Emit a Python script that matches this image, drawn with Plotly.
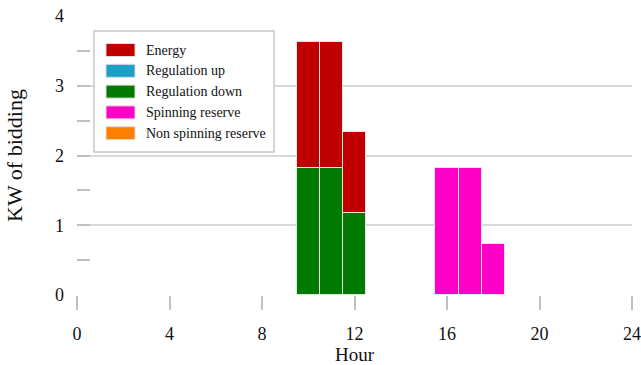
import plotly.graph_objects as go

hours = [10, 11, 12, 16, 17, 18]
energy = [1.81, 1.81, 1.17, 0, 0, 0]
reg_up = [0, 0, 0, 0, 0, 0]
reg_down = [1.82, 1.82, 1.17, 0, 0, 0]
spinning = [0, 0, 0, 1.82, 1.82, 0.73]
non_spinning = [0, 0, 0, 0, 0, 0]

series_names = ["Energy", "Regulation up", "Regulation down", "Spinning reserve", "Non spinning reserve"]
series_colors = ["#c00000", "#1ba1c8", "#007a00", "#ff00c8", "#ff8000"]
x_ticks = [0, 4, 8, 12, 16, 20, 24]
y_ticks = [0, 1, 2, 3, 4]

FONT = "Liberation Serif"
W, H = 641, 365
ML, MR, MT, MB = 77, 9, 16, 70

fig = go.Figure()

# stacking order: bottom first
stack = [("Regulation down", reg_down), ("Regulation up", reg_up), ("Energy", energy),
         ("Spinning reserve", spinning), ("Non spinning reserve", non_spinning)]
cmap = dict(zip(series_names, series_colors))
for name, vals in stack:
    xs = [h for h, v in zip(hours, vals) if v > 0]
    ys = [v for v in vals if v > 0]
    fig.add_trace(go.Bar(x=xs, y=ys, width=1, name=name, showlegend=False,
                         marker=dict(color=cmap[name], line=dict(color="#e6e6e6", width=1.5))))

# custom legend (paper coordinates from pixel layout)
pw, ph = W - ML - MR, H - MT - MB
def px(X):
    return (X - ML) / pw
def py(Y):
    return (H - MB - Y) / ph

shapes = [dict(type="rect", xref="paper", yref="paper",
               x0=px(94), x1=px(274), y0=py(152), y1=py(31),
               line=dict(color="#c8c8c8", width=1.5), fillcolor="white", layer="above")]
annotations = []
row_y = 50
for name, col in zip(series_names, series_colors):
    shapes.append(dict(type="rect", xref="paper", yref="paper",
                       x0=px(106), x1=px(135), y0=py(row_y + 6.5), y1=py(row_y - 6.5),
                       line=dict(color="#dddddd", width=1), fillcolor=col, layer="above"))
    annotations.append(dict(xref="paper", yref="paper", x=px(144), y=py(row_y),
                            xanchor="left", yanchor="middle", showarrow=False, text=name,
                            font=dict(family=FONT, size=14, color="#111")))
    row_y += 20.8

# x-axis title
annotations.append(dict(xref="paper", yref="paper", x=0.5, y=py(354),
                        xanchor="center", yanchor="middle", showarrow=False, text="Hour",
                        font=dict(family=FONT, size=19, color="#111")))

fig.update_layout(
    barmode="stack", bargap=0,
    width=W, height=H,
    margin=dict(l=ML, r=MR, t=MT, b=MB),
    plot_bgcolor="white", paper_bgcolor="white",
    font=dict(family=FONT, size=18, color="#111"),
    showlegend=False,
    shapes=shapes, annotations=annotations,
    xaxis=dict(range=[0, 24], tickvals=x_ticks, ticks="outside", ticklen=14,
               tickcolor="#c0c0c0", tickwidth=1.5, showgrid=False, zeroline=False,
               showline=False, automargin=False, ticklabelstandoff=8,
               ticklabeloverflow="allow",
               tickfont=dict(size=18)),
    yaxis=dict(range=[0, 4], tickvals=y_ticks, ticks="inside", ticklen=13,
               tickcolor="#c0c0c0", tickwidth=1.5, showgrid=True, gridcolor="#d9d9d9",
               gridwidth=1.5, zeroline=False, showline=False, automargin=False,
               ticklabelstandoff=12,
               minor=dict(ticks="inside", ticklen=13, dtick=0.5, tick0=0.5,
                          tickcolor="#c0c0c0", tickwidth=1.5, showgrid=False),
               title=dict(text="KW of bidding", standoff=26),
               tickfont=dict(size=18)),
)
fig.write_html("out.html", config={"displayModeBar": False},
               post_script="document.body.style.margin='0';document.body.style.overflow='hidden';")
